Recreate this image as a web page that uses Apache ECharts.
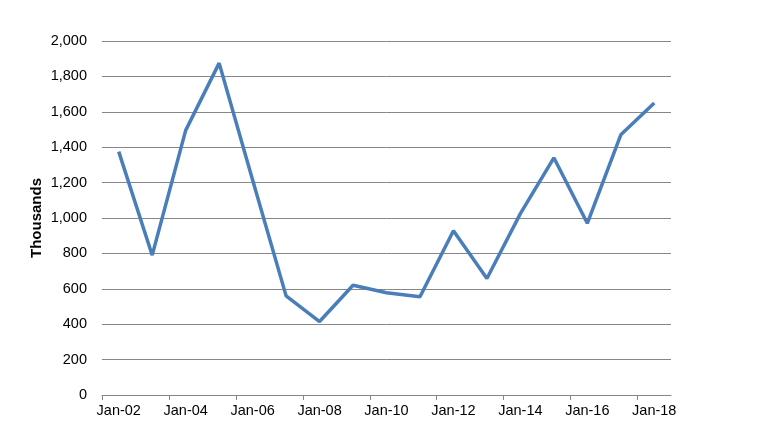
<!DOCTYPE html>
<html>
<head>
<meta charset="utf-8">
<script src="https://cdn.jsdelivr.net/npm/echarts@6/dist/echarts.min.js"></script>
<style>
  html, body { margin: 0; padding: 0; background: #fff; }
  #main { width: 763px; height: 433px; }
</style>
</head>
<body>
<div id="main"></div>
<script>
// one point per year (plotted mid-year), Excel-style date axis
const years = [2002, 2003, 2004, 2005, 2006, 2007, 2008, 2009, 2010,
  2011, 2012, 2013, 2014, 2015, 2016, 2017, 2018]
const values = [1375, 790, 1495, 1875, 1215, 560, 415, 620, 578,
  555, 928, 658, 1025, 1340, 970, 1470, 1650]
const tickYears = [2002, 2004, 2006, 2008, 2010, 2012, 2014, 2016, 2018]

const font = 'Liberation Sans, Arial'
const data = years.map((y, i) => [y + 0.5, values[i]])

const chart = echarts.init(document.getElementById('main'))
chart.setOption({
  animation: false,
  grid: { left: 102, right: 92, top: 41, bottom: 38 },
  xAxis: {
    type: 'value',
    min: 2002,
    max: 2019,
    splitLine: { show: false },
    axisLine: { show: true, lineStyle: { color: '#868686' } },
    axisTick: { show: true, customValues: tickYears, length: 5, lineStyle: { color: '#868686' } },
    axisLabel: {
      customValues: tickYears.map((y) => y + 0.5),
      color: '#000',
      fontFamily: font,
      fontSize: 14.5,
      margin: 8,
      formatter: (v) => 'Jan-' + String(Math.floor(v) % 100).padStart(2, '0')
    }
  },
  yAxis: {
    type: 'value',
    min: 0,
    max: 2000,
    interval: 200,
    name: 'Thousands',
    nameLocation: 'middle',
    nameGap: 58,
    nameMoveOverlap: false,
    nameTextStyle: { fontFamily: font, fontSize: 15, fontWeight: 'bold', color: '#000' },
    axisLine: { show: false },
    axisTick: { show: false },
    splitLine: { lineStyle: { color: '#868686' } },
    axisLabel: {
      color: '#000',
      fontFamily: font,
      fontSize: 14.5,
      margin: 15,
      formatter: (v) => v.toLocaleString('en-US')
    }
  },
  series: [{
    type: 'line',
    data: data,
    symbol: 'none',
    lineStyle: { color: '#4a7ebb', width: 3.5 }
  }]
})
</script>
</body>
</html>
